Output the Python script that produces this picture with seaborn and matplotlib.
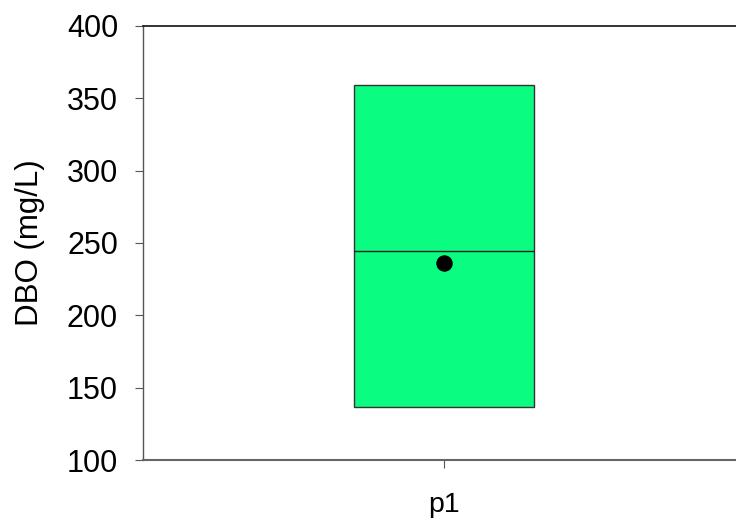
import matplotlib
matplotlib.use("Agg")
import matplotlib.pyplot as plt
import seaborn as sns
import pandas as pd

# Summary statistics of DBO for the sampling point
groups = ["p1"]
q1 = [136.7]
median = [244.5]
q3 = [359.2]
mean = [236.2]

sns.set_theme(style="white")
plt.rcParams["font.family"] = ["Liberation Sans", "DejaVu Sans"]

# Rebuild a sample whose quartiles reproduce the stored summary (whiskers collapse onto the box)
rows = []
for g, a, m, b in zip(groups, q1, median, q3):
    for v in (a, a, m, b, b):
        rows.append({"grupo": g, "DBO": v})
df = pd.DataFrame(rows)
df_mean = pd.DataFrame({"grupo": groups, "DBO": mean})

fig = plt.figure(figsize=(7.36, 5.19), dpi=100)
ax = fig.add_axes([143 / 736, 1 - 460 / 519, 602 / 736, 434 / 519])

sns.boxplot(data=df, x="grupo", y="DBO", ax=ax, width=0.3, whis=0,
            showfliers=False, color="#0AFC80", saturation=1,
            boxprops=dict(edgecolor="#333333", linewidth=1.0),
            medianprops=dict(color="#222222", linewidth=1.0),
            whiskerprops=dict(linewidth=0), capprops=dict(linewidth=0))
sns.scatterplot(data=df_mean, x="grupo", y="DBO", ax=ax, color="black",
                s=120, edgecolor="black", zorder=5, legend=False)

ax.set_xlim(-0.5, 0.5)
ax.set_ylim(100, 400)
ax.set_yticks([100, 150, 200, 250, 300, 350, 400])
ax.set_xlabel("")
ax.set_ylabel("DBO (mg/L)", fontsize=22.5, color="black", labelpad=16)

ax.tick_params(axis="both", which="major", labelcolor="black",
               direction="out", length=6, width=0.8, color="#555555",
               left=True, bottom=True)
ax.tick_params(axis="y", labelsize=22, pad=12)
ax.tick_params(axis="x", labelsize=20.5, pad=17)

ax.spines["right"].set_visible(False)
ax.spines["top"].set_color("#222222")
ax.spines["top"].set_linewidth(1.3)
ax.spines["bottom"].set_color("#666666")
ax.spines["bottom"].set_linewidth(1.5)
ax.spines["left"].set_color("#555555")
ax.spines["left"].set_linewidth(1.0)

fig.savefig("out.png", dpi=100)
